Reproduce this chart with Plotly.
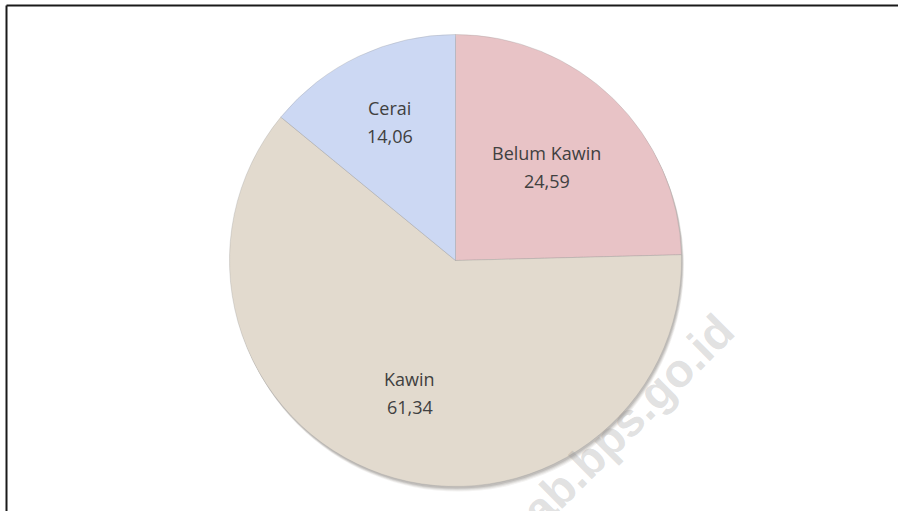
import math
import plotly.graph_objects as go

labels = ["Belum Kawin", "Kawin", "Cerai"]
values = [24.59, 61.34, 14.06]
colors = ["#E8C3C6", "#E2DACE", "#CCD8F3"]
label_radius = [0.58, 0.62, 0.68]  # fraction of pie radius where each label sits
watermark = "ab.bps.go.id"

W, H = 898, 511
cx, cy, r = 455.5, 260.5, 226

def dom(dx=0, dy=0):
    return dict(x=[(cx - r + dx) / W, (cx + r + dx) / W],
                y=[(H - (cy + r + dy)) / H, (H - (cy - r + dy)) / H])

fig = go.Figure()
# soft shadow layers
for off, a in [(5, 0.06), (4, 0.08), (3, 0.10), (2, 0.12)]:
    fig.add_trace(go.Pie(values=[1], labels=["s"], domain=dom(off * 0.5, off),
                         marker=dict(colors=[f"rgba(60,50,40,{a})"], line=dict(width=0)),
                         textinfo="none", hoverinfo="skip", showlegend=False, sort=False))

fig.add_trace(go.Pie(
    labels=labels, values=values, sort=False, direction="clockwise", rotation=0,
    domain=dom(),
    marker=dict(colors=colors, line=dict(color="rgba(150,150,150,0.5)", width=0.6)),
    textinfo="none", showlegend=False,
))

# data labels placed at each slice's mid-angle
total = sum(values)
cum = 0.0
font = dict(family="Open Sans", size=18, color="#404040")
for lab, v, fr in zip(labels, values, label_radius):
    mid = (cum + v / 2) / total * 2 * math.pi
    cum += v
    px = cx + fr * r * math.sin(mid)
    py = cy - fr * r * math.cos(mid)
    val = f"{v:.2f}".replace(".", ",")
    fig.add_annotation(text=lab, x=px / W, y=(H - (py - 14)) / H, xref="paper", yref="paper",
                       showarrow=False, font=font, xanchor="center", yanchor="middle")
    fig.add_annotation(text=val, x=px / W, y=(H - (py + 14)) / H, xref="paper", yref="paper",
                       showarrow=False, font=font, xanchor="center", yanchor="middle")

fig.add_annotation(text=f"<b>{watermark}</b>", x=627 / W, y=(H - 420) / H,
                   xref="paper", yref="paper", showarrow=False, textangle=-45,
                   font=dict(family="Liberation Sans", size=47, color="rgba(140,140,140,0.27)"),
                   xanchor="center", yanchor="middle")

fig.add_shape(type="line", xref="paper", yref="paper", x0=6.5 / W, x1=1.0,
              y0=(H - 5.5) / H, y1=(H - 5.5) / H, line=dict(color="#1a1a1a", width=2))
fig.add_shape(type="line", xref="paper", yref="paper", x0=6.5 / W, x1=6.5 / W,
              y0=0, y1=(H - 5.5) / H, line=dict(color="#1a1a1a", width=2))

fig.update_layout(width=W, height=H, margin=dict(l=0, r=0, t=0, b=0),
                  paper_bgcolor="white", plot_bgcolor="white")
fig.write_html("out.html")
